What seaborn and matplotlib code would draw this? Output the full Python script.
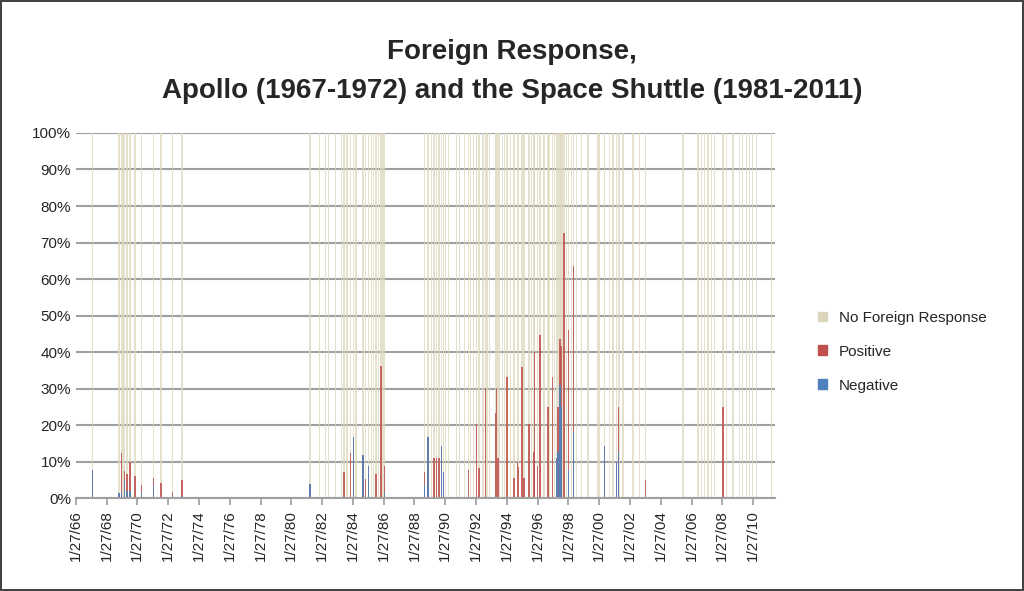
import matplotlib
matplotlib.use("Agg")
import matplotlib.pyplot as plt
import matplotlib.transforms as mtransforms
from matplotlib.patches import Patch
import seaborn as sns
import pandas as pd

# event dates (decimal years), negative %, positive %
years = [1967.15, 1968.88, 1969.04, 1969.14, 1969.23, 1969.40, 1969.60, 1969.92, 1970.34, 1971.14,
         1971.61, 1972.35, 1972.97,
         1981.28, 1981.91, 1982.28, 1982.50, 1982.93, 1983.32, 1983.49, 1983.69, 1983.93, 1984.10,
         1984.27, 1984.73, 1984.90, 1985.07, 1985.29, 1985.42, 1985.57, 1985.72, 1985.90, 1986.03, 1986.13,
         1988.73, 1988.95, 1989.17, 1989.34, 1989.49, 1989.66, 1989.84, 1989.95, 1990.10, 1990.29,
         1990.79, 1991.01, 1991.33, 1991.57, 1991.72, 1991.92, 1992.09, 1992.26, 1992.52, 1992.69,
         1992.78, 1992.95, 1993.32, 1993.39, 1993.50, 1993.60, 1993.78, 1993.93, 1994.08, 1994.32,
         1994.53, 1994.75, 1994.84, 1995.05, 1995.18, 1995.51, 1995.66, 1995.83, 1995.88, 1996.05,
         1996.22, 1996.48, 1996.74, 1996.85, 1997.02, 1997.17, 1997.28, 1997.39, 1997.52, 1997.59,
         1997.67, 1997.78, 1997.93, 1998.08, 1998.26, 1998.41, 1998.58, 1998.91, 1999.34, 1999.99,
         2000.10, 2000.42, 2000.75, 2000.96, 2001.18, 2001.31, 2001.40, 2001.61, 2002.26, 2002.69,
         2003.06, 2005.51, 2006.48, 2006.70, 2006.92, 2007.13, 2007.35, 2007.56, 2008.11, 2008.32,
         2008.76, 2009.19, 2009.40, 2009.62, 2009.84, 2010.05, 2010.27, 2011.24]
negative = [7.7, 1.3, 1.7, 0, 5.0, 2.0, 2.0, 0, 1.3, 3.3,
            0, 0, 0.5,
            4.0, 0, 0, 0, 0, 0, 0, 0, 0, 16.8,
            0, 11.8, 0, 8.9, 0, 0, 0, 0, 0, 0, 1.7,
            3.6, 16.8, 0, 0, 0, 0, 14.3, 7.2, 0, 0,
            0, 0, 0, 0, 0, 0, 0, 0, 0, 0,
            0, 0, 0, 0, 0, 0, 0, 0, 0, 0,
            0, 0, 0, 0, 0, 0, 0, 0, 0, 0,
            0, 0, 0, 0, 0, 0, 11.0, 12.7, 30.9, 25.0,
            0, 0, 0, 7.7, 0, 18.2, 0, 0, 0, 0,
            0, 14.3, 0, 0, 9.9, 12.7, 0, 0, 0, 0,
            0, 0, 0, 0, 0, 0, 0, 0, 0, 0,
            0, 0, 0, 0, 0, 0, 0, 0]
positive = [0, 0, 10.8, 0, 2.4, 4.7, 8.0, 6.0, 2.4, 2.1,
            4.2, 1.7, 4.4,
            0, 0, 0, 0, 0, 0, 7.2, 0, 12.5, 0,
            0, 0, 5.2, 0, 0, 0, 6.6, 0, 36.2, 0, 7.2,
            3.6, 0, 0, 11.0, 11.0, 11.0, 0, 0, 0, 0,
            0, 0, 0, 7.7, 0, 0, 20.2, 8.4, 0, 30.2,
            0, 0, 23.2, 30.2, 11.0, 0, 0, 0, 33.2, 0,
            5.6, 9.9, 8.6, 35.8, 5.6, 20.2, 0, 12.7, 39.9, 8.9,
            44.6, 0, 25.0, 0, 33.2, 0, 0, 12.3, 12.8, 16.6,
            0, 72.6, 0, 38.3, 0, 45.4, 0, 0, 0, 0,
            0, 0, 0, 0, 0, 12.3, 0, 0, 0, 0,
            5.1, 0, 0, 0, 0, 0, 0, 0, 25.0, 0,
            0, 0, 0, 0, 0, 0, 0, 0]

tick_years = [1966.07 + 2 * k for k in range(23)]
tick_labels = ["1/27/%02d" % ((66 + 2 * k) % 100) for k in range(23)]

df = pd.DataFrame({"year": years, "neg": negative, "pos": positive})
df["negpos"] = df["neg"] + df["pos"]
df["all"] = 100.0

c_none, c_pos, c_neg = "#DCD6BC", "#C0504D", "#4F81BD"

sns.set_theme(style="white")
fig = plt.figure(figsize=(10.24, 5.91), dpi=100)
fig.patch.set_edgecolor("#444444")
fig.patch.set_linewidth(1.5)
ax = fig.add_axes([0.074, 0.157, 0.683, 0.618])

for col, c, a in [("all", c_none, 0.75), ("negpos", c_pos, 0.85), ("neg", c_neg, 0.85)]:
    sns.barplot(data=df, x="year", y=col, native_scale=True, color=c, alpha=a,
                width=1.7, errorbar=None, ax=ax, linewidth=0, saturation=1)

ax.set_xlim(1966.07, 2011.5)
ax.set_ylim(0, 100)
ax.set_yticks(range(0, 101, 10))
ax.set_yticklabels(["%d%%" % v for v in range(0, 101, 10)], fontsize=11,
                   fontfamily="Liberation Sans")
ax.yaxis.grid(True, color="#A0A0A0", linewidth=1.5)
ax.set_axisbelow(True)
ax.set_xticks(tick_years)
ax.set_xticklabels(tick_labels, rotation=90, fontsize=11, fontfamily="Liberation Sans")
offset = mtransforms.ScaledTranslation(15 / 100, 0, fig.dpi_scale_trans)
for lab in ax.get_xticklabels():
    lab.set_transform(lab.get_transform() + offset)
ax.tick_params(axis="x", length=5, color="#A0A0A0", bottom=True)
ax.tick_params(axis="y", length=0)
for s in ["top", "right", "left"]:
    ax.spines[s].set_visible(False)
ax.spines["bottom"].set_color("#A0A0A0")
ax.spines["bottom"].set_linewidth(1.5)
ax.set_xlabel("")
ax.set_ylabel("")

fig.text(0.5, 0.912, "Foreign Response,", ha="center", va="center", fontsize=20,
         fontweight="bold", fontfamily="Liberation Sans")
fig.text(0.5, 0.846, "Apollo (1967-1972) and the Space Shuttle (1981-2011)", ha="center",
         va="center", fontsize=20, fontweight="bold", fontfamily="Liberation Sans")

handles = [Patch(color=c_none), Patch(color=c_pos), Patch(color=c_neg)]
fig.legend(handles, ["No Foreign Response", "Positive", "Negative"], loc="center left",
           bbox_to_anchor=(0.785, 0.405), frameon=False, handlelength=0.6, handleheight=0.6,
           labelspacing=1.3, prop={"family": "Liberation Sans", "size": 11})

fig.savefig("out.png", dpi=100, edgecolor=fig.get_edgecolor())
